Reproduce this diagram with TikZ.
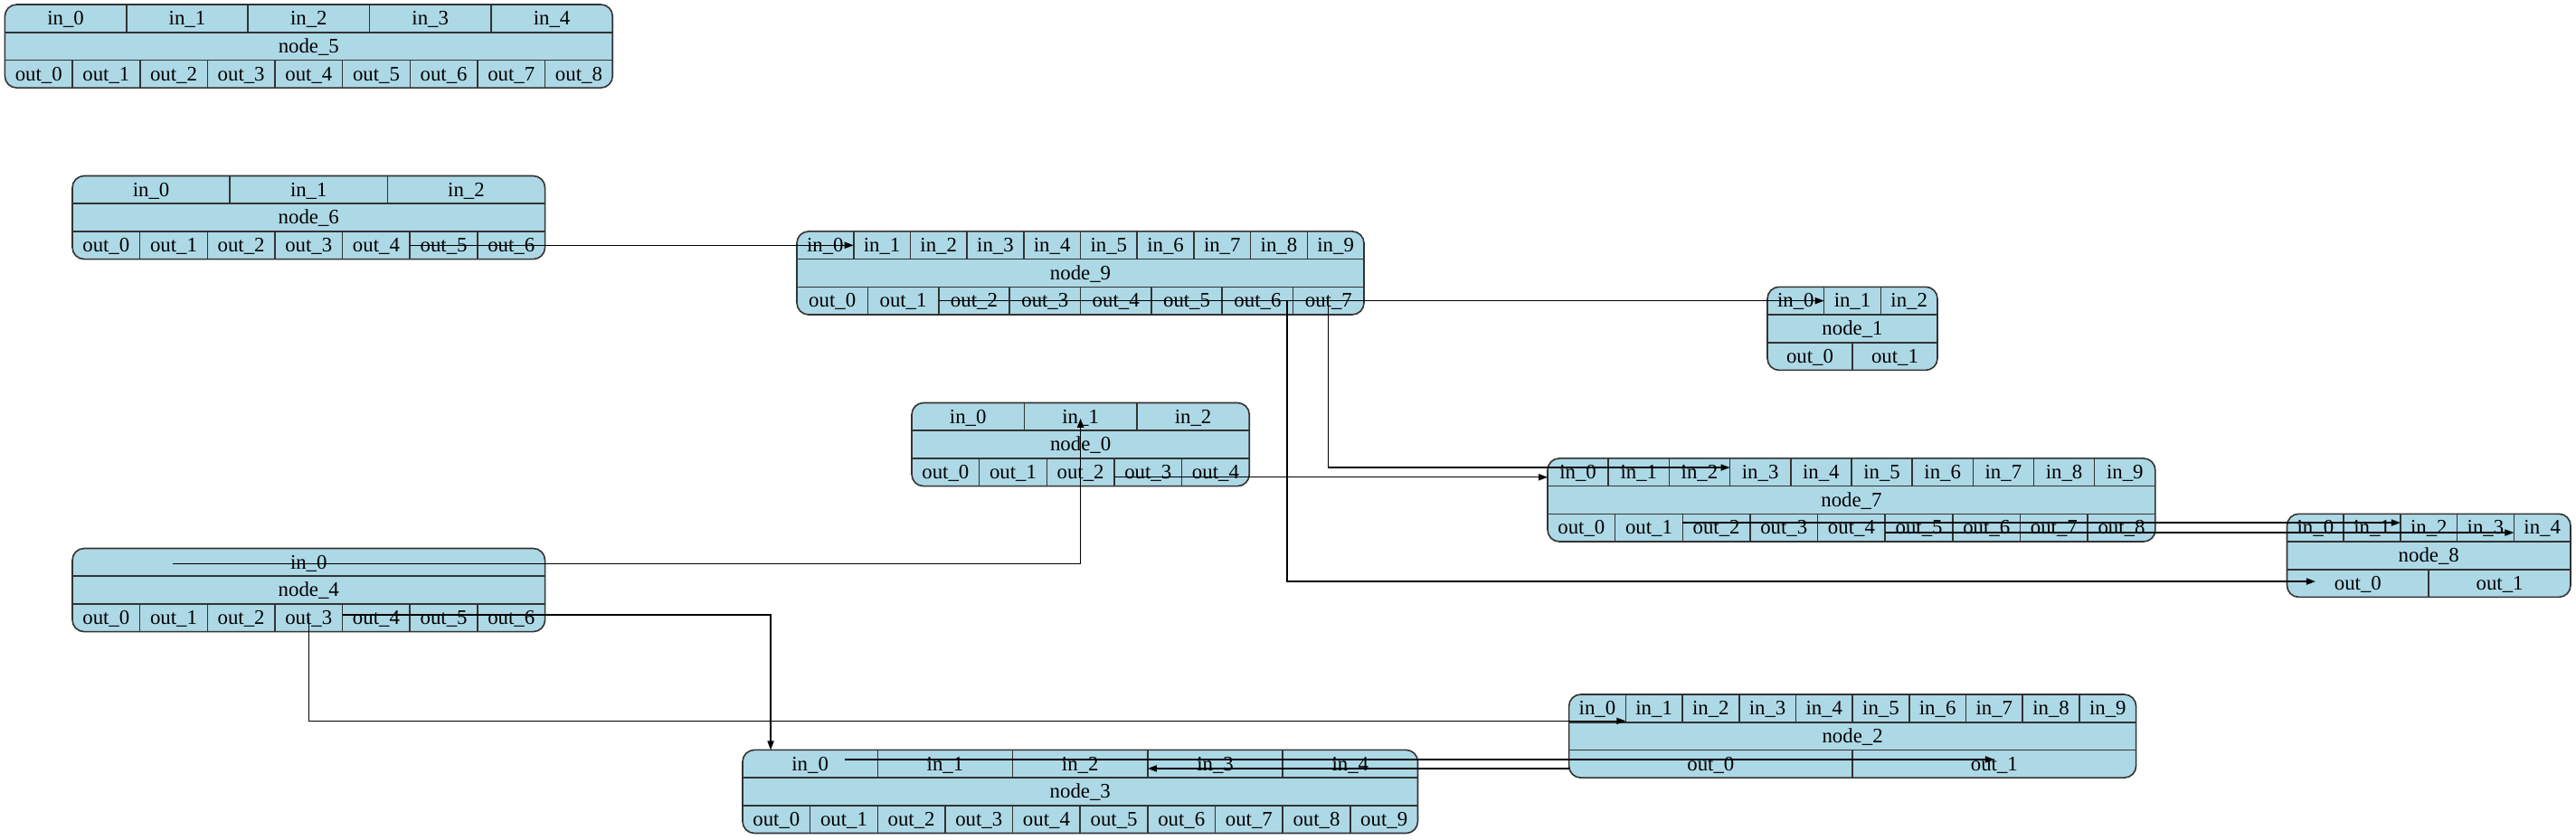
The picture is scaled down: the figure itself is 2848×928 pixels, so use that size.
\documentclass[tikz,border=0pt]{standalone}
\usepackage{fontspec}
\setmainfont{Liberation Serif}
\usetikzlibrary{arrows.meta}
\definecolor{gvblue}{HTML}{ADD8E6}
\definecolor{gvline}{HTML}{333333}
\newcommand\recfont{\fontsize{11.4}{13}\selectfont}
\tikzset{
  recbox/.style={draw=gvline, fill=gvblue, line width=0.8pt, rounded corners=6.5pt, inner sep=0pt, outer sep=0pt},
  cell/.style={inner sep=0pt, outer sep=0pt, font=\recfont, text height=7.7pt, text depth=0.4pt, minimum height=15.35pt},
  divider/.style={draw=gvline, line width=0.8pt},
  connarrow/.style={draw=black, line width=0.6pt, -{Triangle[length=5pt,width=3.6pt]}},
  connplain/.style={draw=black, line width=0.6pt}
}
% #1 name, #2 left x, #3 top y, #4 width, #5 number of in cells, #6 number of out cells, #7 label
\newcommand\recnode[7]{%
  \pgfmathsetmacro\rwpt{#4*0.5}%
  \node[recbox, anchor=north west, minimum width=\rwpt pt, minimum height=46.05pt] (#1) at (#2,#3) {};
  \draw[divider] (#2,#3+30.7) -- ++(#4,0);
  \draw[divider] (#2,#3+61.4) -- ++(#4,0);
  \pgfmathsetmacro\ciw{#4/#5}%
  \pgfmathsetmacro\ciwpt{#4/#5*0.5}%
  \pgfmathsetmacro\cow{#4/#6}%
  \pgfmathsetmacro\cowpt{#4/#6*0.5}%
  \foreach \i in {1,...,#5}{%
    \pgfmathtruncatemacro\k{\i-1}%
    \node[cell, minimum width=\ciwpt pt] (#1-in\k) at ({#2+\ciw*(\i-0.5)},{#3+15.35}) {in\_\k};
    \ifnum\i<#5 \draw[divider] ({#2+\ciw*\i},#3) -- ++(0,30.7);\fi
  }%
  \node[cell, minimum width=\rwpt pt] (#1-name) at ({#2+#4/2},{#3+46.05}) {#7};
  \foreach \i in {1,...,#6}{%
    \pgfmathtruncatemacro\k{\i-1}%
    \node[cell, minimum width=\cowpt pt] (#1-out\k) at ({#2+\cow*(\i-0.5)},{#3+76.75}) {out\_\k};
    \ifnum\i<#6 \draw[divider] ({#2+\cow*\i},{#3+61.4}) -- ++(0,30.7);\fi
  }%
}
\begin{document}
\begin{tikzpicture}[x=0.5pt,y=-0.5pt]
\useasboundingbox (0,0) rectangle (2848,928);
\recnode{n5}{5.4}{5}{671.85}{5}{9}{node\_5}
\recnode{n6}{80}{194.5}{522.55}{3}{7}{node\_6}
\recnode{n9}{881}{255.9}{627}{10}{8}{node\_9}
\recnode{n1}{1954}{317.3}{188}{3}{2}{node\_1}
\recnode{n0}{1008}{445.5}{373.25}{3}{5}{node\_0}
\recnode{n7}{1711}{506.9}{671.85}{10}{9}{node\_7}
\recnode{n8}{2528.5}{568.3}{313.5}{5}{2}{node\_8}
\recnode{n4}{80}{606.5}{522.55}{1}{7}{node\_4}
\recnode{n2}{1734.6}{768}{627}{10}{2}{node\_2}
\recnode{n3}{821}{829.4}{746.5}{5}{10}{node\_3}
% connectors
\draw[connarrow] (n6-out5.west) -- (n9-in0.east);
\draw[connarrow] (n9-out2.west) -- (n1-in0.east);
\draw[connarrow] (n9-out7.center) |- ([yshift=2.6pt]n7-in2.east);
\draw[connarrow] ([xshift=-3.3pt]n9-out7.west) |- ([xshift=15.7pt,yshift=1pt]n8-out0.west);
\draw[connarrow] ([yshift=-2.75pt]n0-out3.west) -- ([yshift=-2.75pt]n7-in0.west);
\draw[connarrow] ([xshift=55.5pt,yshift=-1pt]n4-in0.west) -| ([yshift=-1pt]n0-in1.center);
\draw[connarrow] ([yshift=1.6pt]n4-out4.west) -| ([xshift=-21.8pt]n3-in0.north);
\draw[connarrow] (n4-out3.center) |- ([yshift=-7pt]n2-in0.east);
\draw[connarrow] ([xshift=19.2pt,yshift=2.4pt]n3-in0.center) -- ([yshift=2.4pt]n2-out1.center);
\draw[connarrow] ([yshift=-2.6pt]n2-out0.west) -- ([yshift=-2.6pt]n3-in3.west);
\draw[connarrow] ([yshift=2.8pt]n7-out2.west) -- ([yshift=2.8pt]n8-in1.east);
\draw[connarrow] ([yshift=-2.7pt]n7-out5.west) -- ([yshift=-2.7pt]n8-in3.east);
\end{tikzpicture}
\end{document}
